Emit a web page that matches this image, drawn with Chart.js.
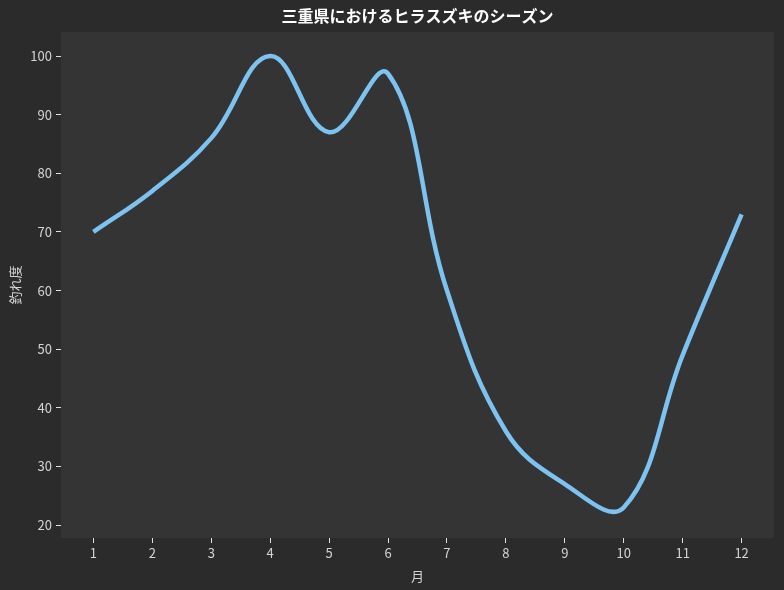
<!DOCTYPE html>
<html lang="ja">
<head>
    <meta charset="UTF-8">
    <title>三重県におけるヒラスズキのシーズン</title>
    <script src="https://cdn.jsdelivr.net/npm/chart.js@4/dist/chart.umd.min.js"></script>
    <style>
        html, body { margin: 0; padding: 0; background: #2b2b2b; }
        #wrap { width: 784px; height: 590px; }
    </style>
</head>
<body>
    <div id="wrap"><canvas id="seasonChart"></canvas></div>

    <script>
        // 月ごとの釣れ度
        const months = [1, 2, 3, 4, 5, 6, 7, 8, 9, 10, 11, 12];
        const catchScore = [70, 77, 86, 100, 87, 97, 60, 36, 27, 23, 49, 73];
        const yTicks = [20, 30, 40, 50, 60, 70, 80, 90, 100];
        const chartTitle = '三重県におけるヒラスズキのシーズン';

        const tickFont = { family: "'Noto Sans CJK JP', sans-serif", size: 13 };

        // backgrounds + title centred over the plot area (like matplotlib)
        const plotBg = {
            id: 'plotBg',
            beforeDraw(chart) {
                const { ctx, chartArea: a } = chart;
                ctx.save();
                ctx.fillStyle = '#2b2b2b';
                ctx.fillRect(0, 0, chart.width, chart.height);
                ctx.fillStyle = '#343434';
                ctx.fillRect(a.left, a.top, a.right - a.left, a.bottom - a.top);
                ctx.restore();
            },
            afterDraw(chart) {
                const { ctx, chartArea: a } = chart;
                ctx.save();
                ctx.fillStyle = '#ffffff';
                ctx.font = "bold 16px 'Noto Sans CJK JP', sans-serif";
                ctx.textAlign = 'center';
                ctx.textBaseline = 'middle';
                ctx.fillText(chartTitle, (a.left + a.right) / 2, 16);
                ctx.restore();
            }
        };

        new Chart('seasonChart', {
            type: 'line',
            data: {
                datasets: [{
                    data: months.map((m, i) => ({ x: m, y: catchScore[i] })),
                    borderColor: '#7cc3f2',
                    borderWidth: 4.5,
                    pointRadius: 0,
                    tension: 0.4,
                    fill: false
                }]
            },
            plugins: [plotBg],
            options: {
                responsive: true,
                maintainAspectRatio: false,
                animation: false,
                layout: { padding: { left: 0, right: 10, top: 32, bottom: 0 } },
                plugins: {
                    legend: { display: false },
                    tooltip: { enabled: false },
                    title: { display: false }
                },
                scales: {
                    x: {
                        type: 'linear',
                        min: 0.45,
                        max: 12.55,
                        afterBuildTicks: axis => { axis.ticks = months.map(v => ({ value: v })); },
                        afterFit: axis => { axis.height = 52; },
                        border: { display: false },
                        grid: { drawOnChartArea: false, drawTicks: true, tickLength: 5, tickColor: '#e0e0e0' },
                        ticks: { color: '#d4d4d4', font: tickFont, padding: 2, maxRotation: 0 },
                        title: {
                            display: true,
                            text: '月',
                            color: '#d4d4d4',
                            font: { family: "'Noto Sans CJK JP', sans-serif", size: 13 },
                            padding: { top: 0, bottom: 6 }
                        }
                    },
                    y: {
                        type: 'linear',
                        min: 17.8,
                        max: 104.1,
                        afterBuildTicks: axis => { axis.ticks = yTicks.map(v => ({ value: v })); },
                        afterFit: axis => { axis.width = 61; },
                        border: { display: false },
                        grid: { drawOnChartArea: false, drawTicks: true, tickLength: 5, tickColor: '#e0e0e0' },
                        ticks: { color: '#d4d4d4', font: tickFont, padding: 4 },
                        title: {
                            display: true,
                            text: '釣れ度',
                            color: '#d4d4d4',
                            font: { family: "'Noto Sans CJK JP', sans-serif", size: 13 },
                            padding: { top: 7, bottom: 0 }
                        }
                    }
                }
            }
        });
    </script>
</body>
</html>
